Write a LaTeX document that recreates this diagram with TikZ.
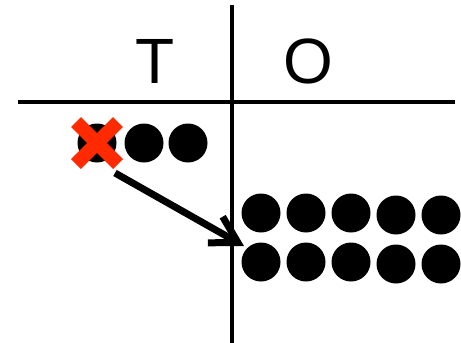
\documentclass[tikz,border=0pt]{standalone}
\usepackage{fontspec}
\setmainfont{Liberation Sans}
\usepackage{xcolor}
\usetikzlibrary{arrows.meta, positioning, calc}
\definecolor{crossred}{HTML}{FF2A00}

\begin{document}
\begin{tikzpicture}[
  x=1pt, y=-1pt,
  rule/.style={draw=black, line width=4.5pt},
  head/.style={inner sep=0pt, anchor=base, font=\fontsize{64}{70}\selectfont},
  dot/.style={circle, fill=black, minimum size=39pt, inner sep=0pt},
  cross/.style={draw=crossred, line width=14pt},
]
\useasboundingbox (0,0) rectangle (461,343);

% Chart lines
\draw[rule] (232,5) -- (232,343);
\draw[rule] (18,102) -- (455,102);

% Column heads
\node[head] (tens) at (155,83) {T};
\node[head] (ones) at (308,83) {O};

% Tens column
\node[dot] (t1) at (97,143)  {};
\node[dot] (t2) at (144,143) {};
\node[dot] (t3) at (188,143) {};
\draw[cross] ($(t1)+(-21,-21)$) -- ($(t1)+(21,21)$);
\draw[cross] ($(t1)+(-21,21)$) -- ($(t1)+(21,-21)$);

% Ones column
\foreach \n/\px/\dy in {1/261/0, 2/306/0, 3/351/0, 4/396/2, 5/441/2} {
  \node[dot] (a\n) at (\px,213+\dy) {};
  \node[dot] (b\n) at (\px,262+\dy) {};
}

% Regrouping arrow
\coordinate (from) at (115,173);
\coordinate (to)   at (244,246);
\draw[line width=7pt, -{Straight Barb[angle=60:30pt]}] (from) -- (to);

\end{tikzpicture}
\end{document}
